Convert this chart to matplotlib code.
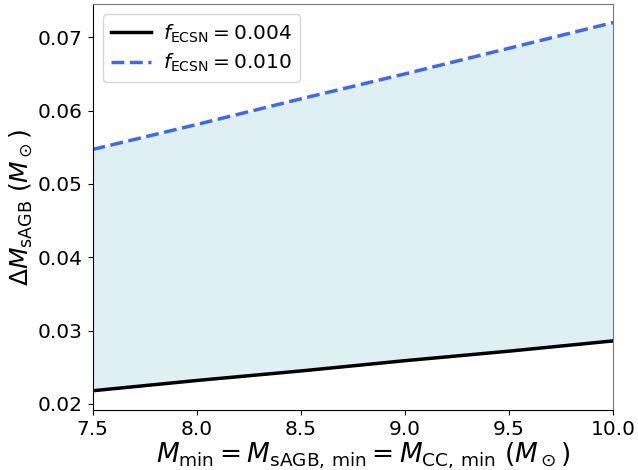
import numpy as np
import matplotlib
matplotlib.use("Agg")
import matplotlib.pyplot as plt

# minimum mass for sAGB / CC (Msun)
m_min = [7.5, 8.0, 8.5, 9.0, 9.5, 10.0]
# delta M_sAGB for the two f_ECSN values
dm_low = [0.0218, 0.0232, 0.0245, 0.0259, 0.0272, 0.0286]
dm_high = [0.0547, 0.0581, 0.0616, 0.0650, 0.0685, 0.0720]
f_labels = ['0.004', '0.010']

fig, ax = plt.subplots(figsize=(6.38, 4.70), dpi=100)

ax.fill_between(m_min, dm_low, dm_high, color='lightblue', alpha=0.38, linewidth=0)
ax.plot(m_min, dm_low, color='black', linewidth=2.5,
        label=rf'$f_{{\rm ECSN}} = {f_labels[0]}$')
ax.plot(m_min, dm_high, color='royalblue', linestyle='--', linewidth=2.5,
        label=rf'$f_{{\rm ECSN}} = {f_labels[1]}$')

ax.set_xlim(7.5, 10.0)
ax.set_ylim(0.0192, 0.0745)
ax.set_xticks([7.5, 8.0, 8.5, 9.0, 9.5, 10.0])
ax.set_yticks([0.02, 0.03, 0.04, 0.05, 0.06, 0.07])
ax.tick_params(labelsize=14.5)
for s in ['top', 'right']:
    ax.spines[s].set_color('#777777')

ax.set_xlabel(r'$M_{\rm min} = M_{\rm sAGB,\,min} = M_{\rm CC,\,min}\ (M_\odot)$',
              fontsize=19)
ax.xaxis.set_label_coords(0.521, -0.077, transform=ax.transAxes)
ax.set_ylabel(r'$\Delta M_{\rm sAGB}\ (M_\odot)$', fontsize=18, labelpad=2)
ax.legend(loc='upper left', fontsize=14.5, labelspacing=0.35, handletextpad=0.6)

plt.subplots_adjust(left=0.145, right=0.961, top=0.991, bottom=0.128)
plt.savefig('out.png', dpi=100)
